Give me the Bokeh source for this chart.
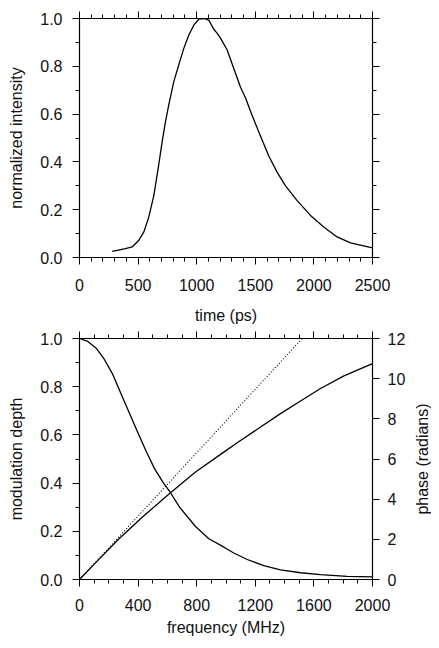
import math

from bokeh.plotting import figure
from bokeh.models import (Range1d, LinearAxis, SingleIntervalTicker, Label,
                          PrintfTickFormatter, CustomJSTickFormatter)
from bokeh.layouts import column
from bokeh.embed import file_html
from bokeh.resources import INLINE

time_ps = [279, 392, 449, 506, 549, 591, 634, 677, 706, 734, 762, 805, 847, 890,
           933, 975, 1018, 1061, 1103, 1146, 1175, 1203, 1260, 1317, 1374, 1416,
           1473, 1544, 1615, 1687, 1758, 1857, 1971, 2084, 2198, 2312, 2500]
intensity = [0.026, 0.037, 0.044, 0.072, 0.107, 0.169, 0.259, 0.391, 0.487, 0.570,
             0.640, 0.737, 0.806, 0.875, 0.931, 0.972, 0.997, 1.0, 0.993, 0.955,
             0.938, 0.918, 0.868, 0.79, 0.712, 0.668, 0.594, 0.508, 0.425, 0.356,
             0.300, 0.238, 0.176, 0.128, 0.086, 0.061, 0.040]

# bottom panel: modulation depth and phase vs frequency
freq_mod = [0, 57, 114, 171, 228, 284, 341, 398, 455, 512, 569, 621, 683, 792,
            883, 992, 1053, 1145, 1258, 1372, 1509, 1645, 1827, 2000]
mod_depth = [1.0, 0.988, 0.960, 0.912, 0.850, 0.770, 0.690, 0.610, 0.532, 0.460,
             0.404, 0.360, 0.300, 0.220, 0.169, 0.132, 0.110, 0.083, 0.058, 0.040,
             0.028, 0.020, 0.013, 0.011]
freq_phase = [0, 109, 268, 428, 621, 792, 992, 1099, 1236, 1372, 1509, 1645, 1805, 2000]
phase_rad = [0, 0.83, 2.02, 3.10, 4.32, 5.35, 6.38, 6.92, 7.59, 8.26, 8.89, 9.51,
             10.14, 10.75]
freq_lin = [0, 1520]
phase_lin = [0, 12]

FONT = "Liberation Sans"
INK = "#111111"
FRAME_W = 293
FREQ_MAX = 2000


def style_axis(ax):
    ax.axis_line_color = "black"
    ax.axis_line_width = 1.2
    ax.major_tick_line_color = "black"
    ax.minor_tick_line_color = "black"
    ax.major_tick_in = 0
    ax.major_tick_out = 7
    ax.minor_tick_in = 0
    ax.minor_tick_out = 4
    ax.major_label_text_font = FONT
    ax.major_label_text_font_size = "16px"
    ax.major_label_text_color = INK
    ax.axis_label_text_font = FONT
    ax.axis_label_text_font_size = "16px"
    ax.axis_label_text_font_style = "normal"
    ax.axis_label_text_color = INK


def blank_axis(ax):
    # ticks only, no numbers (top and right sides of the box)
    style_axis(ax)
    ax.formatter = CustomJSTickFormatter(code="return ''")
    ax.major_label_standoff = 0


def make_fig(h, x_end, top_border, bottom_border):
    p = figure(width=431, height=h, x_range=Range1d(0, x_end), y_range=Range1d(0, 1),
               output_backend="svg", toolbar_location=None,
               min_border_left=79, min_border_right=59,
               min_border_top=top_border, min_border_bottom=bottom_border)
    p.xgrid.visible = False
    p.ygrid.visible = False
    p.outline_line_color = None
    p.background_fill_color = "white"
    p.border_fill_color = "white"
    return p


# ---- top: normalized intensity vs time ----
p1 = make_fig(326, 2500, 18, 67)
p1.line(time_ps, intensity, line_color="black", line_width=1.3, line_join="round")

p1.xaxis.ticker = SingleIntervalTicker(interval=500, num_minor_ticks=5)
p1.yaxis.ticker = SingleIntervalTicker(interval=0.2, num_minor_ticks=2)
p1.yaxis.formatter = PrintfTickFormatter(format="%.1f")
p1.xaxis.axis_label = "time (ps)"
p1.yaxis.axis_label = "normalized intensity"
for ax in p1.xaxis + p1.yaxis:
    style_axis(ax)
p1.xaxis.major_label_standoff = 14
p1.xaxis.axis_label_standoff = 13
p1.yaxis.major_label_standoff = 10
p1.yaxis.axis_label_standoff = 12

top1 = LinearAxis(ticker=SingleIntervalTicker(interval=500, num_minor_ticks=5))
blank_axis(top1)
p1.add_layout(top1, "above")
right1 = LinearAxis(ticker=SingleIntervalTicker(interval=0.2, num_minor_ticks=2))
blank_axis(right1)
p1.add_layout(right1, "right")

# ---- bottom: modulation depth and phase vs frequency ----
p2 = make_fig(314, FREQ_MAX, 12, 61)
p2.extra_y_ranges = {"phase": Range1d(0, 12)}
p2.line(freq_mod, mod_depth, line_color="black", line_width=1.3, line_join="round")
p2.line(freq_phase, phase_rad, y_range_name="phase", line_color="black",
        line_width=1.3, line_join="round")
p2.line(freq_lin, phase_lin, y_range_name="phase", line_color="black",
        line_width=1.1, line_dash="1 2")

p2.xaxis.ticker = SingleIntervalTicker(interval=400, num_minor_ticks=4)
p2.yaxis.ticker = SingleIntervalTicker(interval=0.2, num_minor_ticks=2)
p2.yaxis.formatter = PrintfTickFormatter(format="%.1f")
p2.xaxis.axis_label = "frequency (MHz)"
p2.yaxis.axis_label = "modulation depth"
for ax in p2.xaxis + p2.yaxis:
    style_axis(ax)
p2.xaxis.major_label_standoff = 12
p2.xaxis.axis_label_standoff = 5
p2.yaxis.major_label_standoff = 10
p2.yaxis.axis_label_standoff = 12

top2 = LinearAxis(ticker=SingleIntervalTicker(interval=400, num_minor_ticks=4))
blank_axis(top2)
p2.add_layout(top2, "above")
right2 = LinearAxis(y_range_name="phase",
                    ticker=SingleIntervalTicker(interval=2, num_minor_ticks=0))
style_axis(right2)
right2.major_label_standoff = 8
p2.add_layout(right2, "right")

# right-hand title, reading bottom-to-top like the left one; it sits in the
# right side panel (50 px right of the frame) so it is not clipped
phase_title = Label(x=FREQ_MAX * (FRAME_W + 50) / FRAME_W, y=0.5,
                    text="phase (radians)", angle=math.pi / 2,
                    text_align="center", text_baseline="middle",
                    text_font=FONT, text_font_size="16px", text_color=INK)
p2.add_layout(phase_title, "right")

layout = column(p1, p2)
open("out.html", "w").write(file_html(layout, INLINE))
